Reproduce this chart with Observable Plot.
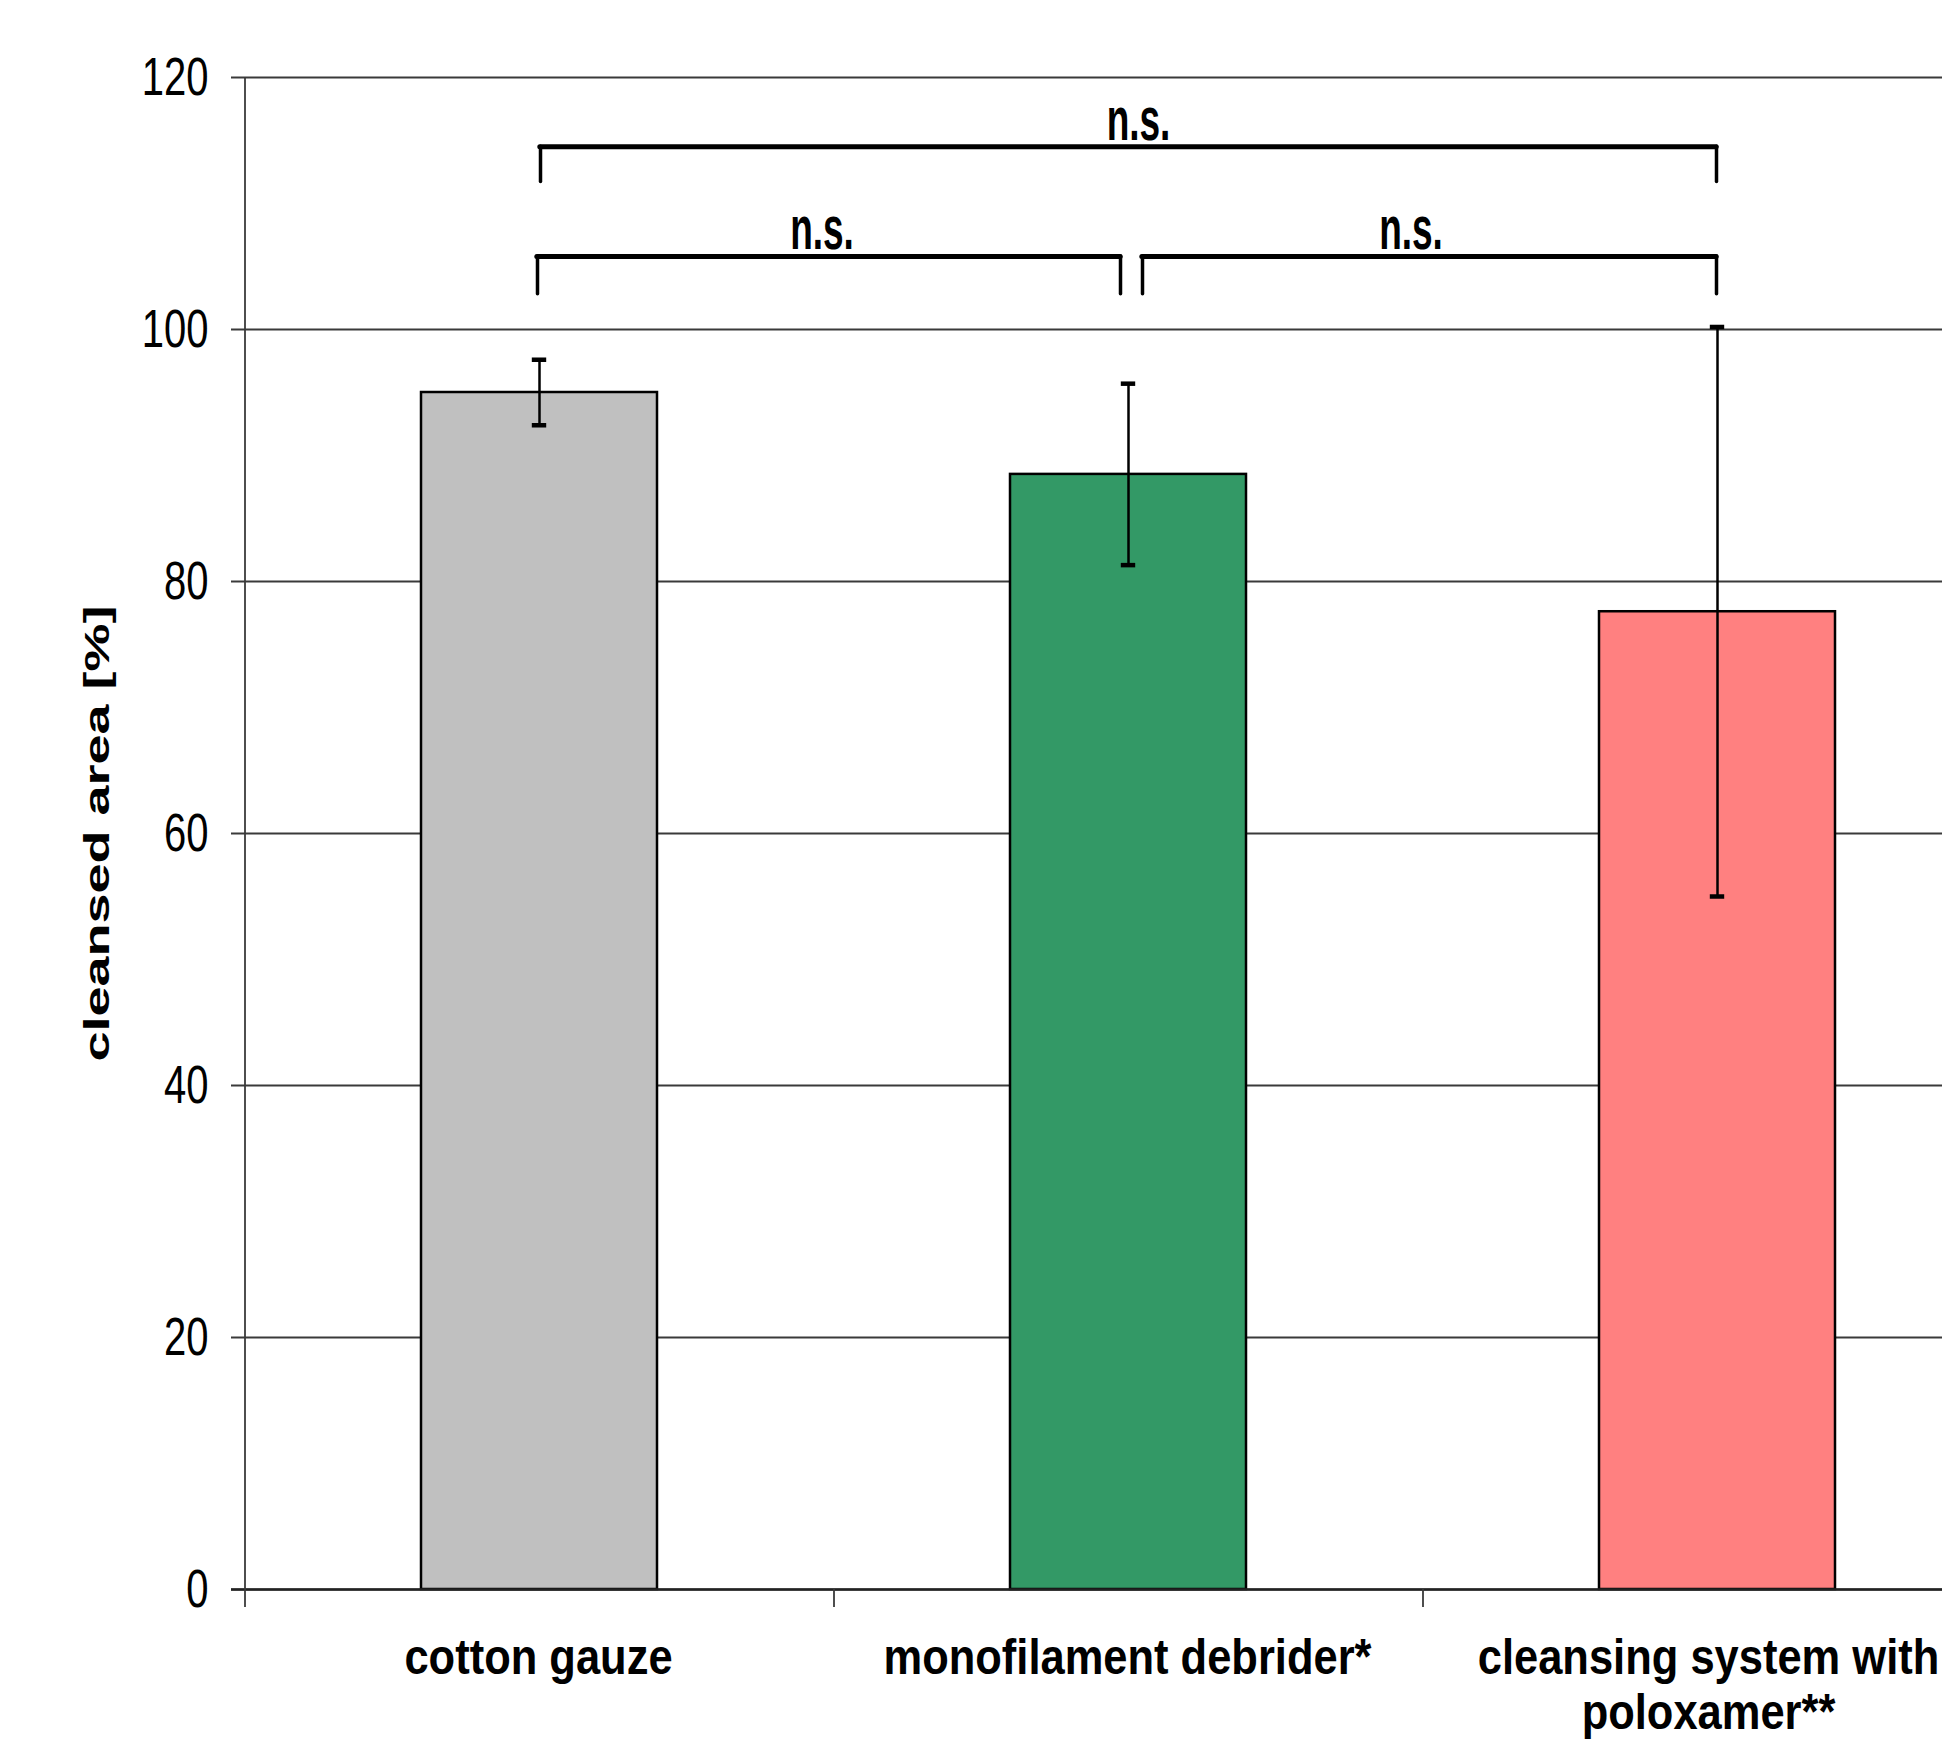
<!DOCTYPE html>
<html><head><meta charset="utf-8">
<script src="https://cdn.jsdelivr.net/npm/d3@7"></script>
<script src="https://cdn.jsdelivr.net/npm/@observablehq/plot@0.6"></script>
<style>html,body{margin:0;padding:0;background:#fff;overflow:hidden}</style>
</head><body><div id="chart"></div>
<script>
// ---- data ----
const categories = ["cotton gauze", "monofilament debrider*", "cleansing system with poloxamer**"];
const categoryLabels = ["cotton gauze", "monofilament debrider*", "cleansing system with\npoloxamer**"];
const means = [95.0, 88.5, 77.6];
const errLow = [92.4, 81.3, 55.0];
const errHigh = [97.6, 95.7, 100.2];
const colors = ["#C0C0C0", "#339966", "#FF8080"];
const yTicks = [0, 20, 40, 60, 80, 100, 120];
const yLabel = "cleansed area [%]";
const bracketFrom = ["cotton gauze", "cotton gauze", "monofilament debrider*"];
const bracketTo = ["cleansing system with poloxamer**", "monofilament debrider*", "cleansing system with poloxamer**"];
const bracketTop = [114.5, 105.8, 105.8];
const bracketLeg = [111.7, 102.8, 102.8];
const bracketText = ["n.s.", "n.s.", "n.s."];

// ---- tables ----
const bars = categories.map((c, i) => ({category: c, value: means[i], lo: errLow[i], hi: errHigh[i], color: colors[i]}));
const brackets = bracketFrom.map((f, i) => ({from: f, to: bracketTo[i], top: bracketTop[i], leg: bracketLeg[i], text: bracketText[i],
  span: categories.indexOf(bracketTo[i]) - categories.indexOf(f)}));
const catLabels = categories.map((c, i) => ({category: c, label: categoryLabels[i], wrapped: categoryLabels[i].includes("\n")}));

// ---- layout ----
const W = 1942, H = 1743;
const X0 = 244, X1 = 2011;
const step = (X1 - X0) / 3;
const bw = step * 0.4;
const FONT = "'Liberation Sans', Arial, sans-serif";

function bracketMarks(i, dxFrom, dxTo) {
  const d = [brackets[i]];
  return [
    Plot.ruleX(d, {x: "from", y1: "leg", y2: "top", dx: dxFrom, stroke: "#000", strokeWidth: 3.5, strokeLinecap: "round"}),
    Plot.ruleX(d, {x: "to", y1: "leg", y2: "top", dx: dxTo, stroke: "#000", strokeWidth: 3.5, strokeLinecap: "round"}),
    Plot.ruleY(d, {y: "top", x1: "from", x2: "to", insetLeft: bw / 2 + dxFrom, insetRight: bw / 2 - dxTo,
      stroke: "#000", strokeWidth: 5, strokeLinecap: "round"})
  ];
}

const labelStyle = {x: "category", text: "label", frameAnchor: "bottom", lineAnchor: "top", dy: 45,
  textAnchor: "middle", fontSize: 43.5, fontWeight: "bold", lineHeight: 1.1, fill: "#000", ariaDescription: "xlabel"};

const chart = Plot.plot({
  width: W, height: H,
  marginLeft: X0, marginRight: 0, marginTop: 77, marginBottom: 154,
  style: {fontFamily: FONT, background: "white", color: "#000"},
  x: {type: "band", domain: categories, range: [X0, X1], paddingInner: 0.6, paddingOuter: 0.3, axis: null},
  y: {domain: [0, 120], axis: null},
  color: {type: "identity"},
  marks: [
    // gridlines + y ticks
    Plot.ruleY(yTicks, {y: d => d, insetLeft: -13, stroke: "#3a3a3a", strokeWidth: 1.8}),
    // bars
    Plot.barY(bars, {x: "category", y: "value", fill: "color", stroke: "#000", strokeWidth: 2.5}),
    // baseline
    Plot.ruleY([0], {insetLeft: -13, stroke: "#222", strokeWidth: 2.5}),
    // y axis line
    Plot.ruleX([categories[0]], {x: d => d, dx: -step / 2, insetBottom: -18, stroke: "#3a3a3a", strokeWidth: 1.8}),
    // category boundary ticks
    Plot.ruleX(categories.slice(1), {x: d => d, dx: -step / 2, insetTop: 1512, insetBottom: -18, stroke: "#3a3a3a", strokeWidth: 1.8}),
    // error bars
    Plot.ruleX(bars, {x: "category", y1: "lo", y2: "hi", stroke: "#000", strokeWidth: 2.5}),
    Plot.tickY(bars, {x: "category", y: "hi", insetLeft: (bw - 14) / 2, insetRight: (bw - 14) / 2, stroke: "#000", strokeWidth: 4.5}),
    Plot.tickY(bars, {x: "category", y: "lo", insetLeft: (bw - 14) / 2, insetRight: (bw - 14) / 2, stroke: "#000", strokeWidth: 4.5}),
    // significance brackets
    ...bracketMarks(0, 1, -1),
    ...bracketMarks(1, -2, -8),
    ...bracketMarks(2, 14, -1),
    Plot.text(brackets.filter(d => d.span === 2), {x: "from", y: "top", text: "text", dx: step + 10, dy: -2, lineAnchor: "bottom",
      textAnchor: "middle", fontSize: 37, fontWeight: "bold", fill: "#000", ariaDescription: "ns"}),
    Plot.text(brackets.filter(d => d.span === 1), {x: "from", y: "top", text: "text", dx: step / 2 - 12, dy: -2, lineAnchor: "bottom",
      textAnchor: "middle", fontSize: 37, fontWeight: "bold", fill: "#000", ariaDescription: "ns"}),
    // y tick labels
    Plot.text(yTicks, {y: d => d, text: d => String(d), frameAnchor: "left", dx: -36, textAnchor: "end",
      fontSize: 40, fill: "#000", ariaDescription: "ytick"}),
    // category labels
    Plot.text(catLabels.filter(d => !d.wrapped), {...labelStyle, dx: -1}),
    Plot.text(catLabels.filter(d => d.wrapped), {...labelStyle, dx: -9}),
    // y axis title
    Plot.text([yLabel], {text: d => d, frameAnchor: "left", dx: -147, rotate: -90, textAnchor: "middle",
      fontSize: 36, fontWeight: "bold", fill: "#000", ariaDescription: "ylabel"})
  ]
});

document.getElementById("chart").appendChild(chart);

// stretch text glyphs vertically (the reference rendering is vertically stretched)
const textGroups = Array.from(chart.querySelectorAll('g[aria-label="text"]'));
const fallbackOrder = {ns: [0, 1], ytick: [2], xlabel: [3, 4], ylabel: [5]};
function groupsFor(label) {
  const found = Array.from(chart.querySelectorAll(`g[aria-description="${label}"]`));
  return found.length ? found : fallbackOrder[label].map(i => textGroups[i]).filter(Boolean);
}
function stretchText(label, sx, sy, originY) {
  groupsFor(label).forEach(grp => grp.querySelectorAll("text").forEach(t => {
    const bb = t.getBBox();
    const anchor = getComputedStyle(t).textAnchor;
    const ox = anchor === "end" ? bb.x + bb.width : anchor === "start" ? bb.x : bb.x + bb.width / 2;
    const oy = originY === "top" ? bb.y : originY === "bottom" ? bb.y + bb.height : bb.y + bb.height / 2;
    const tl = t.transform.baseVal;
    const m = tl.numberOfItems ? tl.consolidate().matrix : new DOMMatrix();
    const p = new DOMPoint(ox, oy).matrixTransform(m);
    const g = document.createElementNS("http://www.w3.org/2000/svg", "g");
    g.setAttribute("transform", `translate(${p.x},${p.y}) scale(${sx},${sy}) translate(${-p.x},${-p.y})`);
    t.parentNode.insertBefore(g, t);
    g.appendChild(t);
  }));
}
stretchText("ytick", 1, 1.33, "middle");
stretchText("xlabel", 1, 1.15, "top");
stretchText("ns", 1, 1.65, "bottom");
stretchText("ylabel", 1, 1.5, "middle");
</script></body></html>
